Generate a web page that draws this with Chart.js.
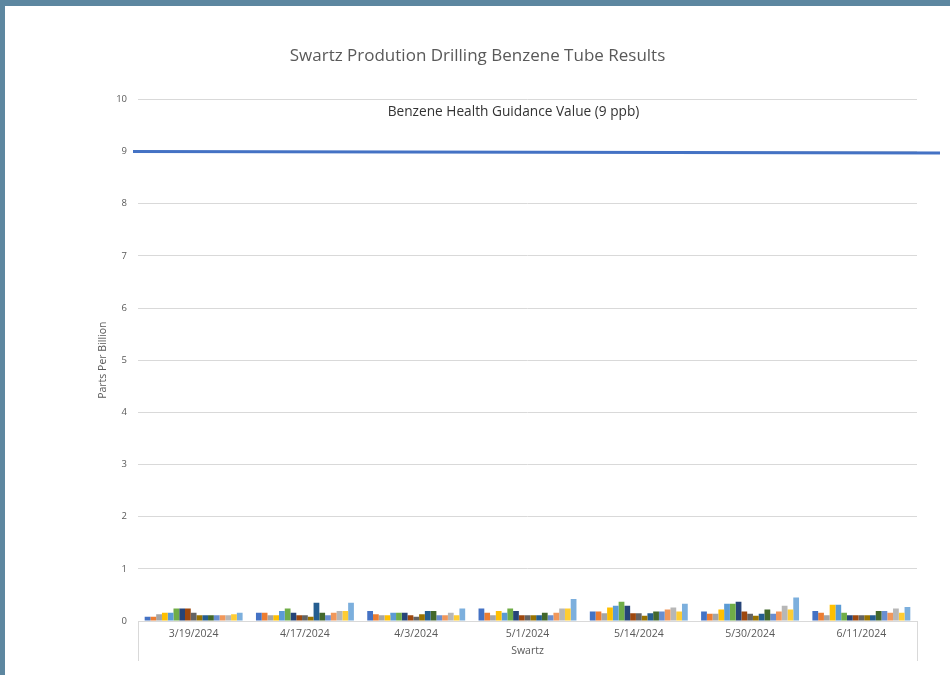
<!DOCTYPE html>
<html>
<head>
<meta charset="utf-8">
<script src="https://cdn.jsdelivr.net/npm/chart.js@4"></script>
<style>
    html, body { margin: 0; padding: 0; }
    body { width: 950px; height: 675px; background: #5d87a0; position: relative; overflow: hidden; }
    #frame { position: absolute; left: 5px; top: 6px; width: 945px; height: 669px; background: #ffffff; }
</style>
</head>
<body>
<div id="frame"><canvas id="benzeneChart" width="945" height="669"></canvas></div>
<script>
// dates des prélèvements
var dates = ['3/19/2024', '4/17/2024', '4/3/2024', '5/1/2024', '5/14/2024', '5/30/2024', '6/11/2024'];

// une série par tube (17 tubes)
var tube1  = [0.08, 0.16, 0.19, 0.24, 0.18, 0.18, 0.19];
var tube2  = [0.08, 0.16, 0.13, 0.16, 0.18, 0.14, 0.16];
var tube3  = [0.13, 0.11, 0.11, 0.11, 0.15, 0.14, 0.11];
var tube4  = [0.16, 0.11, 0.11, 0.19, 0.26, 0.22, 0.31];
var tube5  = [0.16, 0.19, 0.16, 0.16, 0.29, 0.33, 0.31];
var tube6  = [0.24, 0.24, 0.16, 0.24, 0.37, 0.33, 0.16];
var tube7  = [0.24, 0.16, 0.16, 0.19, 0.29, 0.37, 0.11];
var tube8  = [0.24, 0.11, 0.11, 0.11, 0.15, 0.18, 0.11];
var tube9  = [0.16, 0.11, 0.08, 0.11, 0.15, 0.14, 0.11];
var tube10 = [0.11, 0.08, 0.13, 0.11, 0.10, 0.10, 0.11];
var tube11 = [0.11, 0.35, 0.19, 0.11, 0.15, 0.14, 0.11];
var tube12 = [0.11, 0.16, 0.19, 0.16, 0.18, 0.22, 0.19];
var tube13 = [0.11, 0.11, 0.11, 0.11, 0.18, 0.14, 0.19];
var tube14 = [0.11, 0.16, 0.11, 0.16, 0.22, 0.18, 0.16];
var tube15 = [0.11, 0.19, 0.16, 0.24, 0.26, 0.29, 0.24];
var tube16 = [0.13, 0.19, 0.11, 0.24, 0.18, 0.22, 0.16];
var tube17 = [0.16, 0.35, 0.24, 0.42, 0.33, 0.45, 0.27];

var yTicks = [0, 1, 2, 3, 4, 5, 6, 7, 8, 9, 10];
var guidanceValue = 9;
var guidanceLabel = 'Benzene Health Guidance Value (9 ppb)';

var series = [tube1, tube2, tube3, tube4, tube5, tube6, tube7, tube8, tube9,
    tube10, tube11, tube12, tube13, tube14, tube15, tube16, tube17];
var couleurs = ['#4472C4', '#ED7D31', '#A5A5A5', '#FFC000', '#5B9BD5', '#70AD47',
    '#264478', '#9E480E', '#636363', '#997300', '#255E91', '#43682B',
    '#698ED0', '#F1975A', '#B7B7B7', '#FFCD33', '#7CAFDD'];

var police = '"Open Sans", "Liberation Sans", Arial, sans-serif';
var gris = '#595959';

// ligne de la valeur guide + traits de l'axe des catégories
var guidePlugin = {
    id: 'guide',
    afterDatasetsDraw: function (chart) {
        var ctx = chart.ctx;
        var area = chart.chartArea;
        var y = chart.scales.y;
        ctx.save();
        // traits verticaux aux bords de l'axe
        ctx.strokeStyle = '#d9d9d9';
        ctx.lineWidth = 1;
        ctx.beginPath();
        ctx.moveTo(Math.round(area.left) + 0.5, area.bottom);
        ctx.lineTo(Math.round(area.left) + 0.5, area.bottom + 40);
        ctx.moveTo(Math.round(area.right) + 0.5, area.bottom);
        ctx.lineTo(Math.round(area.right) + 0.5, area.bottom + 40);
        ctx.stroke();
        // ligne 9 ppb
        var yg = y.getPixelForValue(guidanceValue);
        ctx.strokeStyle = '#4472C4';
        ctx.lineWidth = 3;
        ctx.beginPath();
        ctx.moveTo(area.left - 5, yg);
        ctx.lineTo(chart.width - 10, yg + 1.4);
        ctx.stroke();
        // libellé
        ctx.fillStyle = '#333333';
        ctx.font = '13.7px ' + police;
        ctx.textAlign = 'center';
        ctx.textBaseline = 'middle';
        ctx.fillText(guidanceLabel, (area.left + area.right) / 2 - 14, y.getPixelForValue(9.76));
        ctx.restore();
    }
};

var datasets = series.map(function (valeurs, i) {
    return {
        label: 'Tube ' + (i + 1),
        data: valeurs,
        backgroundColor: couleurs[i],
        borderWidth: 0
    };
});

var ctx = document.getElementById('benzeneChart').getContext('2d');
var benzeneChart = new Chart(ctx, {
    type: 'bar',
    data: {
        labels: dates,
        datasets: datasets
    },
    options: {
        responsive: false,
        animation: false,
        layout: { padding: 0 },
        datasets: { bar: { categoryPercentage: 0.88, barPercentage: 1 } },
        plugins: {
            legend: { display: false },
            tooltip: { enabled: false },
            title: {
                display: true,
                text: 'Swartz Prodution Drilling Benzene Tube Results',
                color: gris,
                font: { family: police, size: 17, weight: 'normal' },
                padding: { top: 40, bottom: 33 }
            }
        },
        scales: {
            x: {
                grid: { display: false, drawTicks: false },
                border: { display: false },
                ticks: {
                    color: gris,
                    font: { family: police, size: 10.5 },
                    padding: 7,
                    maxRotation: 0
                },
                title: {
                    display: true,
                    text: 'Swartz',
                    color: gris,
                    font: { family: police, size: 10.5 },
                    padding: { top: 0, bottom: 18 }
                },
                afterFit: function (scale) { scale.height = 54; }
            },
            y: {
                min: 0,
                max: 10,
                afterBuildTicks: function (scale) {
                    scale.ticks = yTicks.map(function (v) { return { value: v }; });
                },
                grid: { color: '#d9d9d9', drawTicks: false },
                border: { display: false },
                ticks: {
                    color: gris,
                    font: { family: police, size: 9.5 },
                    padding: 11
                },
                title: {
                    display: true,
                    text: 'Parts Per Billion',
                    color: gris,
                    font: { family: police, size: 10.5 },
                    padding: { top: 92, bottom: 0 }
                },
                afterFit: function (scale) { scale.width = 133; }
            },
            // axe vide à droite pour réserver la marge
            marge: {
                position: 'right',
                min: 0,
                max: 10,
                grid: { display: false, drawTicks: false },
                border: { display: false },
                ticks: { display: false },
                afterFit: function (scale) { scale.width = 33; }
            }
        }
    },
    plugins: [guidePlugin]
});
</script>
</body>
</html>
